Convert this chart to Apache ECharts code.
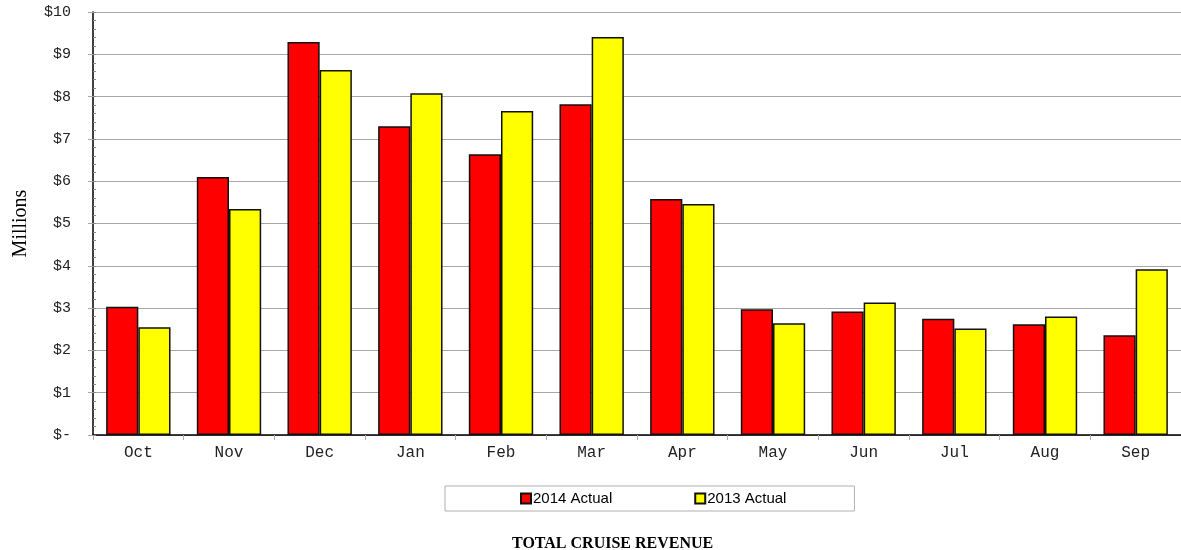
<!DOCTYPE html>
<html>
<head>
<meta charset="utf-8">
<script src="https://cdn.jsdelivr.net/npm/echarts@6/dist/echarts.min.js"></script>
<style>
  html, body { margin: 0; padding: 0; background: #fff; }
  #chart { width: 1181px; height: 550px; }
</style>
</head>
<body>
<div id="chart"></div>
<script>
  const months = ['Oct', 'Nov', 'Dec', 'Jan', 'Feb', 'Mar', 'Apr', 'May', 'Jun', 'Jul', 'Aug', 'Sep'];
  const actual2014 = [3.03, 6.10, 9.29, 7.30, 6.64, 7.82, 5.58, 2.97, 2.92, 2.75, 2.62, 2.36];
  const actual2013 = [2.55, 5.34, 8.63, 8.08, 7.66, 9.41, 5.46, 2.64, 3.13, 2.52, 2.80, 3.92];

  const chart = echarts.init(document.getElementById('chart'));
  chart.setOption({
    backgroundColor: '#fff',
    animation: false,
    title: {
      text: 'TOTAL CRUISE REVENUE',
      left: 507,
      top: 531,
      textStyle: { fontFamily: 'Liberation Serif', fontSize: 16, fontWeight: 'bold', color: '#000' }
    },
    legend: {
      data: ['2014 Actual', '2013 Actual'],
      left: 445,
      top: 486,
      padding: [5, 68, 5, 75],
      itemGap: 82,
      itemWidth: 10,
      itemHeight: 10,
      borderColor: '#b0b0b0',
      borderWidth: 1,
      icon: 'rect',
      textStyle: { fontFamily: 'Liberation Sans', fontSize: 15, color: '#000', padding: [0, 0, 0, -3] }
    },
    grid: { left: 93, right: 0, top: 12, bottom: 115 },
    xAxis: {
      type: 'category',
      data: months,
      axisLine: { lineStyle: { color: '#000', width: 1.5 } },
      axisTick: { show: true, length: 5, lineStyle: { color: '#aaa' } },
      axisLabel: { fontFamily: 'Liberation Mono', fontSize: 16, color: '#222', margin: 10 }
    },
    yAxis: [
      {
        type: 'value',
        min: 0,
        max: 10,
        interval: 1,
        name: 'Millions',
        nameLocation: 'middle',
        nameGap: 62,
        nameTextStyle: { fontFamily: 'Liberation Serif', fontSize: 20, color: '#000' },
        axisLine: { show: true, lineStyle: { color: '#000', width: 1.5 } },
        axisTick: { show: true, inside: true, length: 3, lineStyle: { color: '#888' } },
        minorTick: { show: true, splitNumber: 5, length: 3, lineStyle: { color: '#888' } },
        axisLabel: {
          fontFamily: 'Liberation Mono', fontSize: 15, color: '#222', margin: 22,
          formatter: v => v === 0 ? '$-' : '$' + v
        },
        splitLine: { lineStyle: { color: '#a8a8a8', width: 1 } }
      },
      {
        type: 'value',
        min: 0,
        max: 10,
        interval: 1,
        position: 'left',
        axisLine: { show: false },
        axisTick: { show: true, length: 5, lineStyle: { color: '#a8a8a8' } },
        axisLabel: { show: false },
        splitLine: { show: false }
      }
    ],
    series: [
      {
        name: '2014 Actual',
        type: 'bar',
        data: actual2014,
        barGap: '0%',
        barCategoryGap: '29%',
        itemStyle: { color: '#ff0000', borderColor: '#111', borderWidth: 1.5 }
      },
      {
        name: '2013 Actual',
        type: 'bar',
        data: actual2013,
        barGap: '0%',
        barCategoryGap: '29%',
        itemStyle: { color: '#ffff00', borderColor: '#111', borderWidth: 1.5 }
      }
    ]
  });
</script>
</body>
</html>
